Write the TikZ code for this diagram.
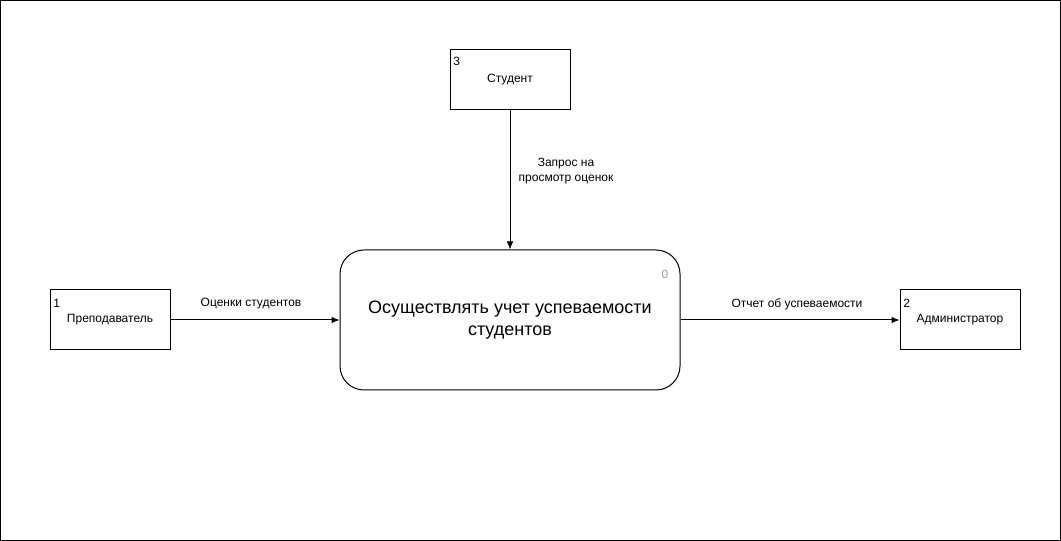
\documentclass[tikz,border=0pt]{standalone}
\usepackage{fontspec}
\setmainfont{Liberation Sans}
\usetikzlibrary{arrows.meta}
\begin{document}
\begin{tikzpicture}[x=0.75pt,y=-0.75pt,
  ent/.style={draw,line width=0.75pt,minimum width=90pt,minimum height=45pt,inner sep=0pt,font=\fontsize{9}{11}\selectfont},
  proc/.style={draw,line width=0.75pt,rounded corners=18pt,minimum width=255pt,minimum height=105pt,inner sep=0pt,align=center,font=\fontsize{13.5}{16}\selectfont},
  num/.style={inner sep=0pt,anchor=north west,font=\fontsize{9}{11}\selectfont},
  lbl/.style={inner sep=0pt,align=center,font=\fontsize{9}{11.25}\selectfont},
  flow/.style={line width=0.75pt,-{Latex[length=6pt,width=5pt]}}
]
\useasboundingbox (0,0) rectangle (1061,541);
\draw[line width=0.75pt] (0.5,0.5) rectangle (1060.5,540.5);
\node[ent] (stud) at (510,80) {Студент};
\node[num] (n3) at (453,57) {3};
\node[ent] (teach) at (110,320) {Преподаватель};
\node[num] (n1) at (53,299) {1};
\node[ent] (adm) at (960,320) {Администратор};
\node[num] (n2) at (903,299) {2};
\node[proc] (p) at (510,320) {Осуществлять учет успеваемости\\студентов};
\node[inner sep=0pt,text=black!40,font=\fontsize{9}{11}\selectfont] (n0) at (665,274) {0};
\draw[flow] (teach) -- (p);
\draw[flow] (p) -- (adm);
\draw[flow] (stud) -- (p);
\node[lbl] (l1) at (251,304) {Оценки студентов};
\node[lbl] (l2) at (797,304) {Отчет об успеваемости};
\node[lbl] (l3) at (566,171) {Запрос на\\просмотр оценок};
\end{tikzpicture}
\end{document}
